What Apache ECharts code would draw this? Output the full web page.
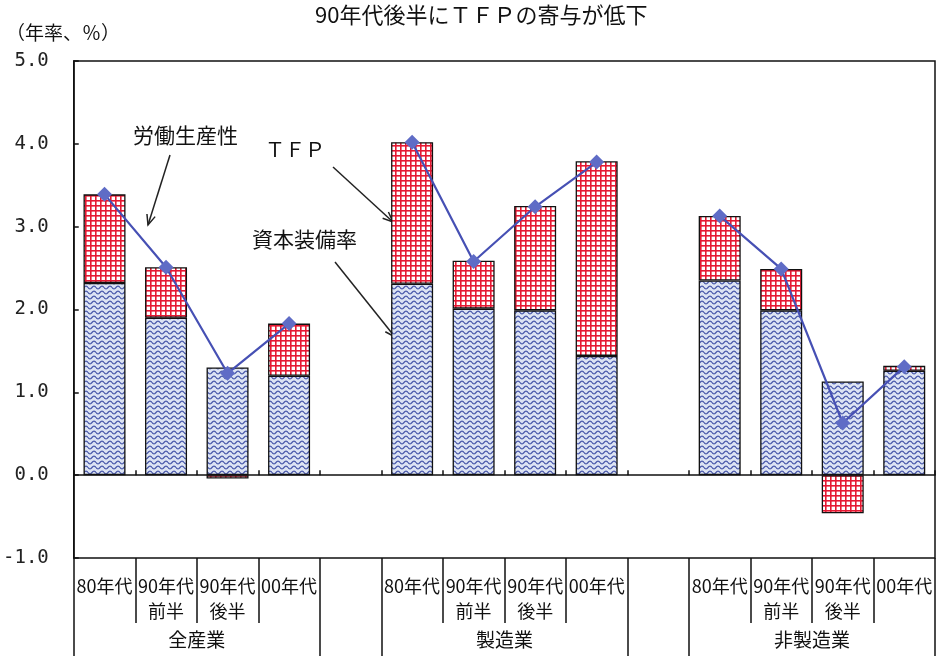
<!DOCTYPE html>
<html><head><meta charset="utf-8">
<script src="https://cdn.jsdelivr.net/npm/echarts@6/dist/echarts.min.js"></script>
<style>html,body{margin:0;padding:0;background:#fff}#c{width:941px;height:656px}</style>
</head><body><div id="c"></div>
<script>
// ---- data ----
const periods = ['80年代','90年代\n前半','90年代\n後半','00年代','',
                 '80年代','90年代\n前半','90年代\n後半','00年代','',
                 '80年代','90年代\n前半','90年代\n後半','00年代'];
const groups = ['全産業','製造業','非製造業'];
const groupCenters = [2, 7, 12];
const groupEdges = [0, 4, 5, 9, 10, 14];
const capital = [2.32, 1.90, 1.30, 1.20, '-', 2.31, 2.01, 1.99, 1.44, '-', 2.35, 1.99, 1.13, 1.26];
const tfp     = [1.07, 0.61, -0.04, 0.63, '-', 1.71, 0.58, 1.26, 2.35, '-', 0.78, 0.50, -0.46, 0.06];
const labor   = [3.39, 2.51, 1.23, 1.83, '-', 4.02, 2.58, 3.24, 3.78, '-', 3.13, 2.49, 0.63, 1.31];
const titleText = '90年代後半にＴＦＰの寄与が低下';
const unitText = '（年率、％）';

// ---- patterns ----
function redGrid(){
  const c = document.createElement('canvas'); c.width = 5; c.height = 5;
  const g = c.getContext('2d');
  g.fillStyle = '#ffffff'; g.fillRect(0,0,5,5);
  g.fillStyle = '#e51933'; g.fillRect(0,0,1.6,5); g.fillRect(0,0,5,1.6);
  return c;
}
function blueWave(){
  const c = document.createElement('canvas'); c.width = 8; c.height = 5;
  const g = c.getContext('2d');
  g.fillStyle = '#dde4f4'; g.fillRect(0,0,8,5);
  g.strokeStyle = '#4454a8'; g.lineWidth = 1.2;
  g.beginPath();
  for (let x = 0; x <= 8; x += 0.5){
    const y = 2.5 + 1.4*Math.sin(2*Math.PI*x/8);
    if (x === 0) g.moveTo(x,y); else g.lineTo(x,y);
  }
  g.stroke();
  return c;
}

const JP = '"Noto Sans CJK JP", sans-serif';
const chart = echarts.init(document.getElementById('c'), null, {renderer:'canvas'});

function arrow(x1,y1,x2,y2){
  const a = Math.atan2(y2-y1, x2-x1), L = 11, w = 0.4;
  const p1 = [x2 - L*Math.cos(a-w), y2 - L*Math.sin(a-w)];
  const p2 = [x2 - L*Math.cos(a+w), y2 - L*Math.sin(a+w)];
  return [
    {type:'line', shape:{x1,y1,x2,y2}, style:{stroke:'#222', lineWidth:1.5}},
    {type:'polyline', shape:{points:[p1,[x2,y2],p2]}, style:{stroke:'#222', lineWidth:1.5, fill:null}}
  ];
}

const option = {
  animation: false,
  backgroundColor: '#fff',
  grid: {left: 70, right: 6, top: 61, bottom: 98, show: true, borderColor: '#111', borderWidth: 1.5, backgroundColor: 'transparent'},
  xAxis: [
    {type:'category', data: periods, position:'bottom',
     axisLine:{onZero:true, lineStyle:{color:'#111', width:1.5}},
     axisTick:{show:true, inside:true, length:5, lineStyle:{color:'#111', width:1.5}},
     axisLabel:{show:false}, splitLine:{show:false}},
    {type:'category', data: periods, position:'bottom',
     axisLine:{show:false, onZero:false},
     axisTick:{show:true, length:65, lineStyle:{color:'#111', width:1.5}},
     axisLabel:{interval:0, margin:16, fontSize:18, lineHeight:25, color:'#111', fontFamily: JP}},
    {type:'value', min:0, max:14, position:'bottom',
     axisLine:{show:false, onZero:false}, splitLine:{show:false},
     axisTick:{show:true, length:98, customValues: groupEdges, lineStyle:{color:'#111', width:1.5}},
     axisLabel:{customValues: groupCenters, margin:72, fontSize:19, color:'#111', fontFamily: JP,
       formatter: v => groups[groupCenters.indexOf(v)] || ''}}
  ],
  yAxis: {type:'value', min:-1, max:5, interval:1,
    axisLine:{show:true, lineStyle:{color:'#111', width:1.5}},
    axisTick:{show:true, inside:true, length:5, lineStyle:{color:'#111', width:1.5}},
    splitLine:{show:false},
    axisLabel:{margin:25, fontSize:19, color:'#222', fontFamily:'"DejaVu Sans Mono", monospace', formatter: v => v.toFixed(1)}},
  series: [
    {name:'資本装備率', type:'bar', stack:'a', xAxisIndex:0, data: capital, barWidth: 42,
     itemStyle:{color:{image: blueWave(), repeat:'repeat'}, borderColor:'#111', borderWidth:1.3}},
    {name:'TFP', type:'bar', stack:'a', xAxisIndex:0, data: tfp, barWidth: 42,
     itemStyle:{color:{image: redGrid(), repeat:'repeat'}, borderColor:'#111', borderWidth:1.3}},
    {name:'労働生産性', type:'line', xAxisIndex:0, data: labor, connectNulls:false,
     symbol:'diamond', symbolSize:15, lineStyle:{color:'#4650b4', width:2.2},
     itemStyle:{color:'#5f6cc6'}, z:5}
  ],
  graphic: [
    {type:'text', left: 315, top: 4, style:{text: titleText, font: '22px ' + JP, fill:'#111'}},
    {type:'text', left: 6, top: 23, style:{text: unitText, font: '19px ' + JP, fill:'#111'}},
    {type:'text', left: 133, top: 125, style:{text:'労働生産性', font:'21px ' + JP, fill:'#111'}},
    {type:'text', left: 265, top: 139, style:{text:'ＴＦＰ', font:'20px ' + JP, fill:'#111'}},
    {type:'text', left: 252, top: 229, style:{text:'資本装備率', font:'21px ' + JP, fill:'#111'}},
    ...arrow(170,155,148,225),
    ...arrow(333,167,393,222),
    ...arrow(335,262,395,337)
  ]
};
chart.setOption(option);
</script></body></html>
